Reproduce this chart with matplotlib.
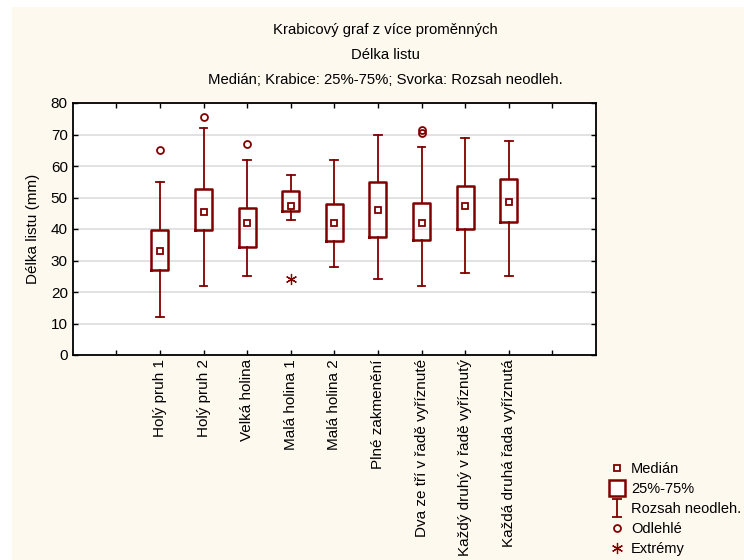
import numpy as np
import matplotlib
matplotlib.use("Agg")
import matplotlib.pyplot as plt
from matplotlib.lines import Line2D
from matplotlib.patches import Rectangle
from matplotlib.path import Path

plt.rcParams['font.family'] = ['Liberation Sans', 'DejaVu Sans']
plt.rcParams['font.size'] = 10.7

# data
labels = ['Holý pruh 1', 'Holý pruh 2', 'Velká holina', 'Malá holina 1',
          'Malá holina 2', 'Plné zakmenění', 'Dva ze tří v řadě vyříznuté',
          'Každý druhý v řadě vyříznutý', 'Každá druhá řada vyříznutá']
med = [33, 45.5, 41.8, 47.3, 41.8, 46, 41.8, 47.3, 48.6]
q1 = [27, 39.8, 34.3, 45.8, 36.3, 37.4, 36.6, 40.1, 42.3]
q3 = [39.8, 52.8, 46.8, 52, 48, 54.8, 48.3, 53.5, 56]
wlo = [12, 22, 25, 43, 28, 24, 22, 26, 25]
whi = [55, 72, 62, 57, 62, 70, 66, 69, 68]
outliers = [[65], [75.5], [67], [], [], [], [70.5, 71.5], [], []]
extremes = [[], [], [], [24], [], [], [], [], []]

red = '#800000'
pos = np.arange(2, 2 + len(labels))

fig = plt.figure(figsize=(7.44, 5.6), dpi=100)
fig.patch.set_facecolor('white')
fig.patches.append(Rectangle((12 / 744, 0), 1, 1 - 7 / 560, transform=fig.transFigure,
                             facecolor='#FEF9EF', edgecolor='none', zorder=-10))
ax = fig.add_axes([72.7 / 744, 1 - 355 / 560, (596 - 72.7) / 744, (355 - 103) / 560])
ax.set_facecolor('white')

stats = []
for i in range(len(labels)):
    stats.append(dict(med=med[i], q1=q1[i], q3=q3[i], whislo=wlo[i], whishi=whi[i],
                      mean=med[i], fliers=outliers[i]))

ax.bxp(stats, positions=pos, widths=0.39, capwidths=0.18, showmeans=True,
       boxprops=dict(color=red, linewidth=1.8),
       whiskerprops=dict(color=red, linewidth=1.3),
       capprops=dict(color=red, linewidth=1.3),
       medianprops=dict(linestyle='none'),
       meanprops=dict(marker='s', markersize=5, markerfacecolor='white',
                      markeredgecolor=red, markeredgewidth=1.3),
       flierprops=dict(marker='o', markersize=5, markerfacecolor='none',
                       markeredgecolor=red, markeredgewidth=1.3))

for p, ex in zip(pos, extremes):
    if ex:
        ax.plot([p] * len(ex), ex, linestyle='none', marker=(6, 2, 0), markersize=8,
                color=red, markeredgewidth=0.9)

ax.set_xlim(0, 12)
ax.set_ylim(0, 80)
ax.set_xticks(np.arange(1, 12))
ax.set_xticklabels([''] + labels + [''], rotation=90)
ax.set_yticks(np.arange(0, 81, 10))
ax.yaxis.grid(True, color='#DADADA', linewidth=1.1)
ax.set_axisbelow(True)
ax.tick_params(direction='in', top=True, right=True, length=3.5, width=1, labelsize=11,
               labelright=False, labeltop=False)
ax.tick_params(axis='x', pad=3)
for s in ax.spines.values():
    s.set_linewidth(1.3)
ax.set_ylabel('Délka listu (mm)', fontsize=11, labelpad=8)

fig.text(385 / 744, 1 - 30 / 560, 'Krabicový graf z více proměnných', ha='center', va='center')
fig.text(385 / 744, 1 - 55 / 560, 'Délka listu', ha='center', va='center')
fig.text(385 / 744, 1 - 80 / 560, 'Medián; Krabice: 25%-75%; Svorka: Rozsah neodleh.',
         ha='center', va='center')

ibar = Path([(-0.5, 1), (0.5, 1), (0, 1), (0, -1), (-0.5, -1), (0.5, -1)],
            [Path.MOVETO, Path.LINETO, Path.MOVETO, Path.LINETO, Path.MOVETO, Path.LINETO])
handles = [
    Line2D([], [], linestyle='none', marker='s', markersize=5, markerfacecolor='white',
           markeredgecolor=red, markeredgewidth=1.3),
    Line2D([], [], linestyle='none', marker='s', markersize=11, markerfacecolor='white',
           markeredgecolor=red, markeredgewidth=1.8),
    Line2D([], [], linestyle='none', marker=ibar, markersize=13, markerfacecolor='none',
           markeredgecolor=red, markeredgewidth=1.3),
    Line2D([], [], linestyle='none', marker='o', markersize=5, markerfacecolor='none',
           markeredgecolor=red, markeredgewidth=1.3),
    Line2D([], [], linestyle='none', marker=(6, 2, 0), markersize=8, color=red,
           markeredgewidth=0.9),
]
leg_labels = ['Medián', '25%-75%', 'Rozsah neodleh.', 'Odlehlé', 'Extrémy']
fig.legend(handles, leg_labels, loc='upper left', bbox_to_anchor=(610 / 744, 1 - 462 / 560),
           frameon=False, fontsize=10.5, handlelength=1.0, handletextpad=0.45,
           labelspacing=0.42, borderpad=0, borderaxespad=0)

fig.savefig('out.png', dpi=100, facecolor=fig.get_facecolor())
